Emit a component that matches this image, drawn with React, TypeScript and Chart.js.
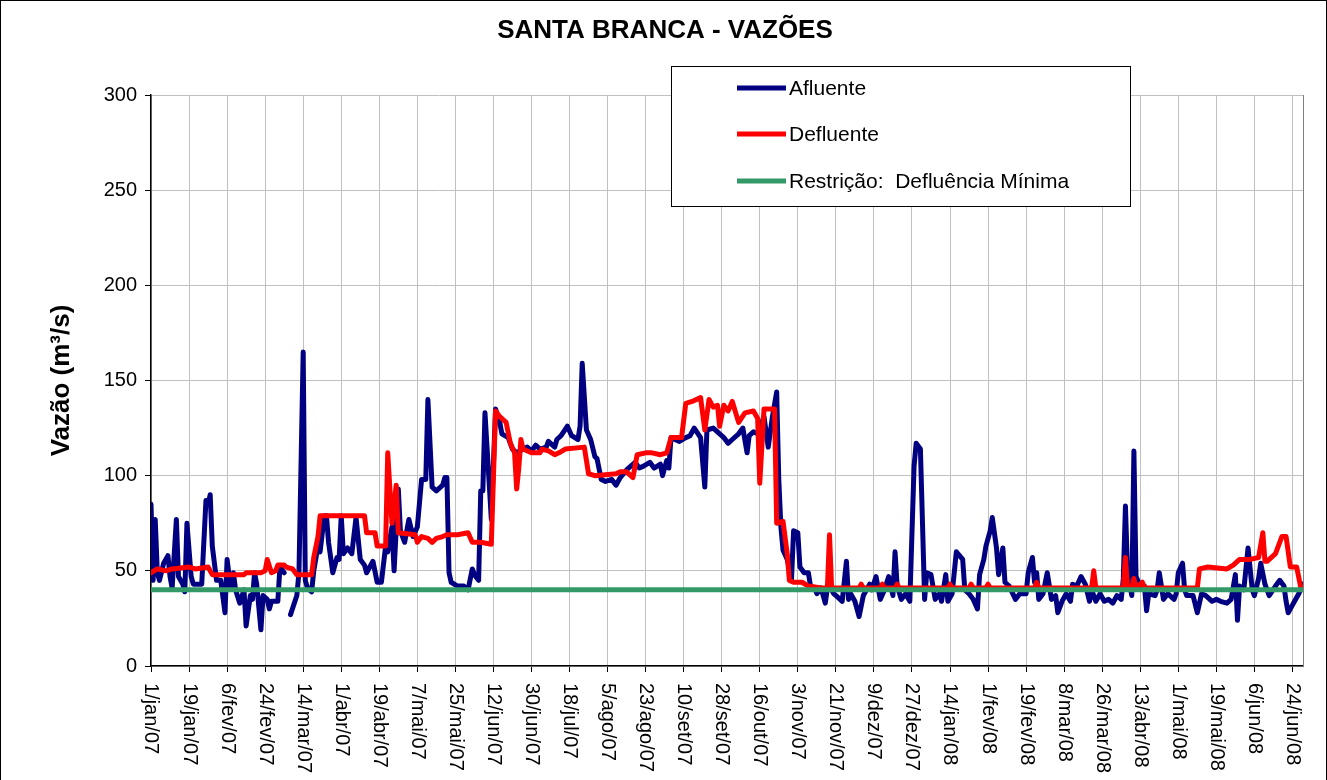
import React, { useEffect, useRef } from "react";
import { Chart, registerables } from "chart.js";
Chart.register(...registerables);

const FONT = '"Liberation Sans", Arial, sans-serif';
const chartTitle = "SANTA BRANCA - VAZÕES";
const yTitle = "Vazão (m³/s)";
const seriesNames = ["Afluente", "Defluente", "Restrição:  Defluência Mínima"];

const tickDays = [0, 18, 36, 54, 72, 90, 108, 126, 144, 162, 180, 198, 216, 234, 252, 270, 288, 306, 324, 342, 360, 378, 396, 414, 432, 450, 468, 486, 504, 522, 540];
const tickLabels = ["1/jan/07", "19/jan/07", "6/fev/07", "24/fev/07", "14/mar/07", "1/abr/07", "19/abr/07", "7/mai/07", "25/mai/07", "12/jun/07", "30/jun/07", "18/jul/07", "5/ago/07", "23/ago/07", "10/set/07", "28/set/07", "16/out/07", "3/nov/07", "21/nov/07", "9/dez/07", "27/dez/07", "14/jan/08", "1/fev/08", "19/fev/08", "8/mar/08", "26/mar/08", "13/abr/08", "1/mai/08", "19/mai/08", "6/jun/08", "24/jun/08"];

// [day since 1/jan/07, m³/s]
const afluente: [number, number | null][] = [[0,85],[1,45],[2,77],[3,49],[4,45],[6,54],[8,58],[9,47],[10,41],[12,77],[13,47],[15,43],[16,39],[17,75],[19,47],[20,43],[22,43],[24,43],[26,87],[27,85],[28,90],[29,63],[31,45],[33,45],[35,28],[36,56],[37,47],[38,41],[39,49],[40,40],[42,33],[44,40],[45,21],[47,37],[48,35],[49,49],[50,43],[52,19],[53,37],[55,35],[56,30],[57,34],[59,34],[60,34],[61,52],[63,49],[65,null],[66,27],[69,37],[70,49],[72,165],[73,45],[74,41],[76,39],[77,50],[79,63],[80,60],[82,79],[83,79],[84,65],[86,49],[88,57],[89,56],[90,79],[91,59],[93,62],[95,59],[97,78],[99,56],[101,53],[102,49],[105,55],[107,44],[109,44],[111,63],[112,60],[114,73],[115,50],[117,93],[118,71],[120,65],[122,77],[124,68],[126,73],[128,98],[130,98],[131,140],[133,94],[135,92],[138,95],[139,99],[140,99],[141,49],[142,44],[145,42],[148,42],[150,40],[152,51],[153,48],[155,45],[156,92],[157,92],[158,133],[160,96],[161,77],[163,135],[165,128],[166,122],[169,120],[171,114],[173,112],[176,114],[178,115],[180,113],[182,116],[184,114],[187,115],[188,118],[191,115],[192,119],[194,121],[197,126],[199,121],[202,119],[203,126],[204,159],[206,124],[208,119],[210,110],[211,109],[213,98],[215,97],[218,98],[220,95],[222,99],[225,103],[227,105],[229,107],[231,104],[233,105],[236,107],[238,104],[241,106],[242,100],[244,108],[245,104],[246,120],[250,118],[253,120],[255,121],[257,125],[260,120],[262,94],[263,124],[266,125],[268,123],[271,120],[273,117],[275,119],[278,122],[280,125],[282,112],[283,121],[285,123],[287,122],[290,131],[292,115],[294,131],[296,144],[297,98],[298,73],[299,61],[301,56],[303,45],[304,71],[306,70],[307,52],[309,49],[311,49],[312,42],[314,41],[315,38],[317,41],[319,33],[320,41],[322,40],[323,38],[325,36],[327,34],[329,55],[330,35],[331,38],[333,34],[335,26],[337,37],[338,39],[340,43],[341,40],[343,47],[345,35],[347,40],[349,47],[351,37],[352,60],[353,42],[355,35],[357,38],[359,34],[361,105],[362,117],[364,114],[366,35],[367,49],[369,48],[371,35],[373,38],[374,34],[376,48],[377,34],[379,38],[381,60],[384,56],[385,40],[387,38],[389,35],[391,30],[392,48],[394,56],[395,63],[397,71],[398,78],[400,62],[401,48],[403,62],[404,44],[406,42],[409,35],[411,38],[414,38],[415,49],[417,57],[418,44],[419,49],[420,35],[422,38],[424,49],[426,35],[428,37],[429,28],[431,34],[433,38],[435,34],[436,43],[438,42],[440,47],[442,43],[444,34],[445,40],[447,34],[449,38],[451,34],[453,35],[455,33],[457,37],[459,35],[460,46],[461,84],[462,49],[464,37],[465,113],[466,47],[468,42],[470,42],[471,29],[472,38],[475,37],[476,40],[477,49],[479,35],[481,38],[484,35],[485,38],[486,49],[488,54],[489,40],[490,37],[493,37],[495,28],[497,38],[499,37],[502,34],[504,35],[506,34],[509,33],[511,35],[513,48],[514,24],[515,42],[517,40],[519,62],[521,40],[522,37],[524,46],[525,54],[527,43],[529,37],[532,42],[534,45],[536,42],[537,34],[538,28],[540,32],[541,34],[543,38],[545,43]];

const defluente: [number, number][] = [[0,49],[3,51],[7,50],[10,51],[18,52],[21,51],[27,52],[29,48],[44,48],[45,49],[52,49],[54,50],[55,56],[57,49],[59,50],[60,53],[63,53],[64,52],[67,51],[69,48],[76,48],[77,57],[79,68],[80,79],[101,79],[102,70],[106,70],[107,63],[111,63],[112,112],[114,75],[116,95],[117,70],[125,69],[126,65],[128,68],[131,67],[133,65],[135,67],[138,68],[140,69],[145,69],[150,70],[152,65],[156,65],[161,64],[163,134],[165,131],[168,128],[170,117],[172,112],[173,93],[174,104],[175,119],[176,114],[180,112],[184,112],[185,114],[188,113],[191,111],[193,112],[196,114],[205,115],[207,101],[210,100],[220,101],[222,102],[225,102],[228,99],[230,111],[234,112],[237,112],[241,111],[244,112],[246,120],[251,120],[253,138],[256,139],[260,141],[262,124],[264,140],[266,136],[268,137],[269,126],[271,137],[273,134],[275,139],[278,128],[281,133],[285,134],[287,130],[288,96],[290,135],[295,135],[296,75],[299,76],[301,59],[302,45],[304,44],[308,44],[311,42],[317,41],[320,41],[321,69],[322,41],[335,41],[336,43],[337,41],[345,41],[346,43],[347,41],[352,41],[353,43],[354,41],[377,41],[378,43],[379,41],[387,41],[388,43],[389,41],[395,41],[396,43],[397,41],[418,41],[419,44],[420,41],[445,41],[446,50],[447,41],[460,41],[461,57],[462,41],[464,41],[465,46],[466,41],[469,44],[470,41],[495,41],[496,51],[500,52],[509,51],[512,53],[515,56],[520,56],[524,57],[526,70],[527,55],[528,55],[532,59],[535,68],[537,68],[539,52],[542,52],[544,41],[545,41]];

const restricao: [number, number][] = [[0, 40], [545, 40]];

const seriesColors = ["#000080", "#FF0000", "#339966"];

export default function App() {
  const ref = useRef<HTMLCanvasElement>(null);
  useEffect(() => {
    const canvas = ref.current!;
    const overlay = {
      id: "overlay",
      afterDraw(chart: any) {
        const { ctx, chartArea: a, scales } = chart;
        const xs = scales.x;
        ctx.save();
        // plot area right border
        ctx.strokeStyle = "#808080";
        ctx.lineWidth = 1;
        ctx.beginPath();
        ctx.moveTo(Math.round(a.right) + 0.5, a.top);
        ctx.lineTo(Math.round(a.right) + 0.5, a.bottom);
        ctx.stroke();
        // rotated x labels (reading top to bottom)
        ctx.fillStyle = "#000";
        ctx.font = `20px ${FONT}`;
        ctx.textAlign = "left";
        ctx.textBaseline = "middle";
        tickDays.forEach((d, i) => {
          const x = xs.getPixelForValue(d);
          ctx.save();
          ctx.translate(x, a.bottom + 17);
          ctx.rotate(Math.PI / 2);
          ctx.fillText(tickLabels[i], 0, 0);
          ctx.restore();
        });
        // title
        ctx.font = `bold 26px ${FONT}`;
        ctx.textAlign = "center";
        ctx.textBaseline = "middle";
        ctx.fillText(chartTitle, 665, 31);
        // legend box
        const lx = 671, ly = 66, lw = 459, lh = 140;
        ctx.fillStyle = "#fff";
        ctx.fillRect(lx, ly, lw, lh);
        ctx.strokeStyle = "#000";
        ctx.lineWidth = 1;
        ctx.strokeRect(lx + 0.5, ly + 0.5, lw, lh);
        const rows = [88, 134, 181];
        ctx.font = `21px ${FONT}`;
        ctx.textAlign = "left";
        chart.data.datasets.forEach((ds: any, i: number) => {
          ctx.strokeStyle = ds.borderColor;
          ctx.lineWidth = 5;
          ctx.beginPath();
          ctx.moveTo(737, rows[i]);
          ctx.lineTo(786, rows[i]);
          ctx.stroke();
          ctx.fillStyle = "#000";
          ctx.fillText(ds.label, 789, rows[i] + 1);
        });
        // outer border
        ctx.strokeStyle = "#000";
        ctx.lineWidth = 1;
        ctx.strokeRect(0.5, 0.5, 1326, 900);
        ctx.restore();
      },
    };
    const toXY = (arr: [number, number | null][]) => arr.map(([x, y]) => ({ x, y }));
    const chart = new Chart(canvas, {
      type: "line",
      data: {
        datasets: [
          { label: seriesNames[0], data: toXY(afluente), borderColor: seriesColors[0], backgroundColor: seriesColors[0], borderWidth: 5, pointRadius: 0, spanGaps: false, order: 3 },
          { label: seriesNames[1], data: toXY(defluente), borderColor: seriesColors[1], backgroundColor: seriesColors[1], borderWidth: 5, pointRadius: 0, order: 2 },
          { label: seriesNames[2], data: toXY(restricao), borderColor: seriesColors[2], backgroundColor: seriesColors[2], borderWidth: 5, pointRadius: 0, order: 1 },
        ] as any,
      },
      options: {
        animation: false,
        responsive: false,
        events: [],
        layout: { padding: { top: 95, right: 24, left: 0, bottom: 0 } },
        elements: { line: { tension: 0, borderJoinStyle: "round", borderCapStyle: "round" } },
        plugins: { legend: { display: false }, title: { display: false }, tooltip: { enabled: false } },
        scales: {
          x: {
            type: "linear",
            min: 0,
            max: 545,
            afterBuildTicks: (s: any) => { s.ticks = tickDays.map((v) => ({ value: v })); },
            afterFit: (s: any) => { s.height = 134; },
            ticks: { display: false },
            grid: { color: "#c0c0c0", lineWidth: 1, tickLength: 6, tickColor: "#000", drawTicks: true },
            border: { color: "#000", width: 1.5 },
          },
          y: {
            min: 0,
            max: 300,
            afterFit: (s: any) => { s.width = 151; },
            ticks: { stepSize: 50, color: "#000", font: { family: FONT, size: 20 }, padding: 8 },
            grid: { color: "#c0c0c0", lineWidth: 1, tickLength: 6, tickColor: "#000" },
            border: { color: "#000", width: 1.5 },
            title: { display: true, text: yTitle, color: "#000", font: { family: FONT, size: 26, weight: "bold" }, padding: { top: 46, bottom: 0 } },
          },
        },
      } as any,
      plugins: [overlay],
    });
    return () => chart.destroy();
  }, []);
  return (
    <div style={{ position: "fixed", left: 0, top: 0, width: 1327, height: 800, background: "#fff" }}>
      <canvas ref={ref} width={1327} height={800} style={{ display: "block", width: 1327, height: 800 }} />
    </div>
  );
}
